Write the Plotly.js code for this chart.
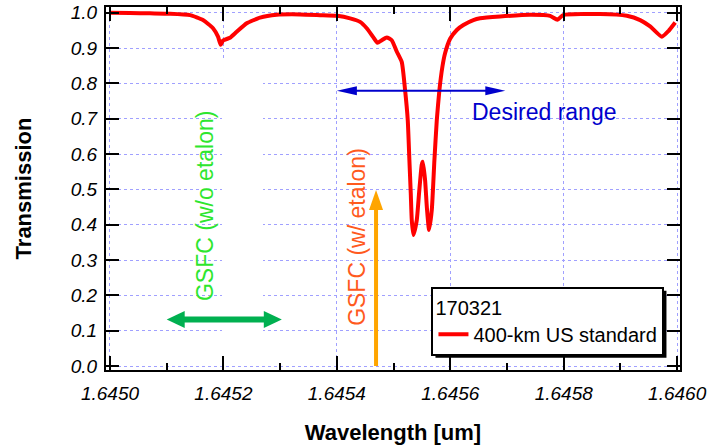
<!DOCTYPE html>
<html>
<head>
<meta charset="utf-8">
<script src="https://cdn.plot.ly/plotly-3.0.1.min.js"></script>
<style>html,body{margin:0;padding:0;background:#fff;}#chart{width:711px;height:447px;}</style>
</head>
<body>
<div id="chart"></div>
<script>
// ---- data ----
const wavelength = [
  1.6450000, 1.6450353, 1.6450705, 1.6451058, 1.6451411, 1.6451640, 1.6451817, 1.6451905,
  1.6451952, 1.6451993, 1.6452116, 1.6452235, 1.6452411, 1.6452646, 1.6452940, 1.6453351,
  1.6453704, 1.6454004, 1.6454233, 1.6454409, 1.6454527, 1.6454644, 1.6454714, 1.6454792,
  1.6454880, 1.6454968, 1.6455056, 1.6455145, 1.6455203, 1.6455250, 1.6455279, 1.6455303,
  1.6455321, 1.6455349, 1.6455409, 1.6455450, 1.6455497, 1.6455515, 1.6455556, 1.6455586,
  1.6455626, 1.6455674, 1.6455720, 1.6455762, 1.6455808, 1.6455861, 1.6455908, 1.6455997,
  1.6456115, 1.6456231, 1.6456407, 1.6456526, 1.6456878, 1.6457407, 1.6457760, 1.6457889,
  1.6457989, 1.6458642, 1.6459113, 1.6459347, 1.6459524, 1.6459730, 1.6459847, 1.6459965
];
const transmission = [
  1.000, 0.999, 0.998, 0.997, 0.993, 0.979, 0.956, 0.932,
  0.909, 0.921, 0.929, 0.946, 0.970, 0.986, 0.994, 0.995,
  0.993, 0.991, 0.984, 0.974, 0.956, 0.930, 0.915, 0.922,
  0.930, 0.922, 0.890, 0.860, 0.781, 0.696, 0.583, 0.490,
  0.413, 0.371, 0.413, 0.490, 0.570, 0.578, 0.526, 0.451,
  0.385, 0.442, 0.583, 0.696, 0.781, 0.847, 0.885, 0.926,
  0.951, 0.965, 0.979, 0.984, 0.989, 0.994, 0.991, 0.980,
  0.993, 0.996, 0.991, 0.979, 0.961, 0.932, 0.948, 0.972
];
const seriesName = '400-km US standard';
const legendTitle = '170321';
const xTitle = 'Wavelength [um]';
const yTitle = 'Transmission';

const labelTexts  = ['GSFC (w/o etalon)', 'GSFC (w/ etalon)', 'Desired range'];
const labelX      = [1.6451676, 1.6454351, 1.6457654];
const labelY      = [0.453, 0.365, 0.719];

// arrows: [x0, y0, x1, y1]
const arrowGreen  = [1.6451000, 0.132, 1.6453030, 0.132];
const arrowBlue   = [1.6454000, 0.779, 1.6456970, 0.779];
const arrowOrange = [1.6454691, 0.000, 1.6454691, 0.498];

// ---- layout geometry ----
const M = {l:106, r:31, t:7, b:77};
const W = 711 - M.l - M.r, H = 447 - M.t - M.b;
const xr = [1.644993, 1.646005], yr = [-0.011, 1.016];

function toPx(x,y){return [(x-xr[0])/(xr[1]-xr[0])*W, (y-yr[0])/(yr[1]-yr[0])*H];}
function toData(p){return [xr[0]+p[0]/W*(xr[1]-xr[0]), yr[0]+p[1]/H*(yr[1]-yr[0])];}

function arrowShapes(a, color, lw, hl, hw, both){
  const p0 = toPx(a[0],a[1]), p1 = toPx(a[2],a[3]);
  const dx = p1[0]-p0[0], dy = p1[1]-p0[1], L = Math.hypot(dx,dy);
  const ux = dx/L, uy = dy/L, nx = -uy, ny = ux;
  const shapes = [];
  function head(tip, sx, sy){
    const b = [tip[0]-sx*hl, tip[1]-sy*hl];
    const c1 = toData([b[0]+nx*hw/2, b[1]+ny*hw/2]);
    const c2 = toData([b[0]-nx*hw/2, b[1]-ny*hw/2]);
    const t = toData(tip);
    shapes.push({type:'path', xref:'x', yref:'y', layer:'above',
      path:`M${t[0]},${t[1]} L${c1[0]},${c1[1]} L${c2[0]},${c2[1]} Z`,
      fillcolor:color, line:{width:0}});
  }
  const s = both ? toData([p0[0]+ux*hl*0.7, p0[1]+uy*hl*0.7]) : toData(p0);
  const e = toData([p1[0]-ux*hl*0.7, p1[1]-uy*hl*0.7]);
  shapes.push({type:'line', xref:'x', yref:'y', layer:'above', x0:s[0], y0:s[1], x1:e[0], y1:e[1],
    line:{color:color, width:lw}});
  head(p1, ux, uy);
  if (both) head(p0, -ux, -uy);
  return shapes;
}

const shapes = [
  // white patch masking gridlines behind the left label
  {type:'rect', xref:'x', yref:'y', layer:'between', x0:1.6451975, x1:1.6452698, y0:0.006, y1:0.866,
   fillcolor:'#ffffff', line:{width:0}},
  ...arrowShapes(arrowGreen, '#00b050', 6, 18, 17, true),
  ...arrowShapes(arrowBlue, '#0000cc', 2, 20, 9, true),
  ...arrowShapes(arrowOrange, '#ffa500', 4, 20, 14, false)
];

const labelColors = ['#2ee62e', '#ff5a1e', '#0000cc'];
const labelAngles = [-90, -90, 0];
const annotations = labelTexts.map((t,i)=>({
  text:t, x:labelX[i], y:labelY[i], xref:'x', yref:'y', showarrow:false,
  textangle:labelAngles[i], font:{family:'Liberation Sans, Arial', size:23, color:labelColors[i]}
}));

const FONT = 'Liberation Sans, Arial, sans-serif';
const trace = {
  x: wavelength, y: transmission, type:'scatter', mode:'lines', name: seriesName,
  line:{color:'#ff0000', width:4, shape:'spline', smoothing:0.5}
};

const layout = {
  width:711, height:447, margin:M, paper_bgcolor:'#fff', plot_bgcolor:'#fff',
  font:{family:FONT, color:'#000'},
  showlegend:true,
  legend:{x:0.567, y:0.229, xanchor:'left', yanchor:'top', bgcolor:'#fff', bordercolor:'#000', borderwidth:2,
    font:{family:FONT, size:20, color:'#000'}, title:{text:legendTitle, side:'top', font:{family:FONT, size:20}},
    tracegroupgap:0},
  xaxis:{range:xr, tick0:1.645, dtick:0.0002, tickformat:'.4f', ticks:'inside', ticklen:14, tickwidth:2,
    tickcolor:'#000', showline:true, linecolor:'#000', linewidth:2, mirror:'allticks', zeroline:false,
    showgrid:true, gridcolor:'#a0a0ff', griddash:'dot', gridwidth:1,
    tickfont:{family:FONT, size:19, style:'italic', color:'#000'}, ticklabelstandoff:5,
    minor:{dtick:0.0001, tick0:1.645, ticks:'inside', ticklen:7, tickwidth:2, tickcolor:'#000', showgrid:false},
    title:{text:xTitle, font:{family:FONT, size:22, weight:'bold', color:'#000'}, standoff:22},
    automargin:false},
  yaxis:{range:yr, tick0:0, dtick:0.1, tickformat:'.1f', ticks:'inside', ticklen:13, tickwidth:2,
    tickcolor:'#000', showline:true, linecolor:'#000', linewidth:2, mirror:'allticks', zeroline:false,
    showgrid:true, gridcolor:'#a0a0ff', griddash:'dot', gridwidth:1,
    tickfont:{family:FONT, size:19, style:'italic', color:'#000'}, ticklabelstandoff:3,
    title:{text:yTitle, font:{family:FONT, size:22, weight:'bold', color:'#000'}, standoff:33},
    automargin:false},
  shapes:shapes, annotations:annotations
};

Plotly.newPlot('chart', [trace], layout, {displayModeBar:false, staticPlot:true}).then(gd=>{
  const bg = gd.querySelector('.legend .bg');
  if (!bg) return;
  const bb = bg.getBoundingClientRect(), cb = gd.getBoundingClientRect();
  const o = 3;
  const sh = {type:'rect', xref:'paper', yref:'paper', layer:'above',
    x0:(bb.left-cb.left+o-M.l)/W, x1:(bb.right-cb.left+o-M.l)/W,
    y0:(M.t+H-(bb.bottom-cb.top+o))/H, y1:(M.t+H-(bb.top-cb.top+o))/H,
    fillcolor:'#000', line:{width:0}};
  Plotly.relayout(gd, {shapes: shapes.concat([sh])});
});
</script>
</body>
</html>
